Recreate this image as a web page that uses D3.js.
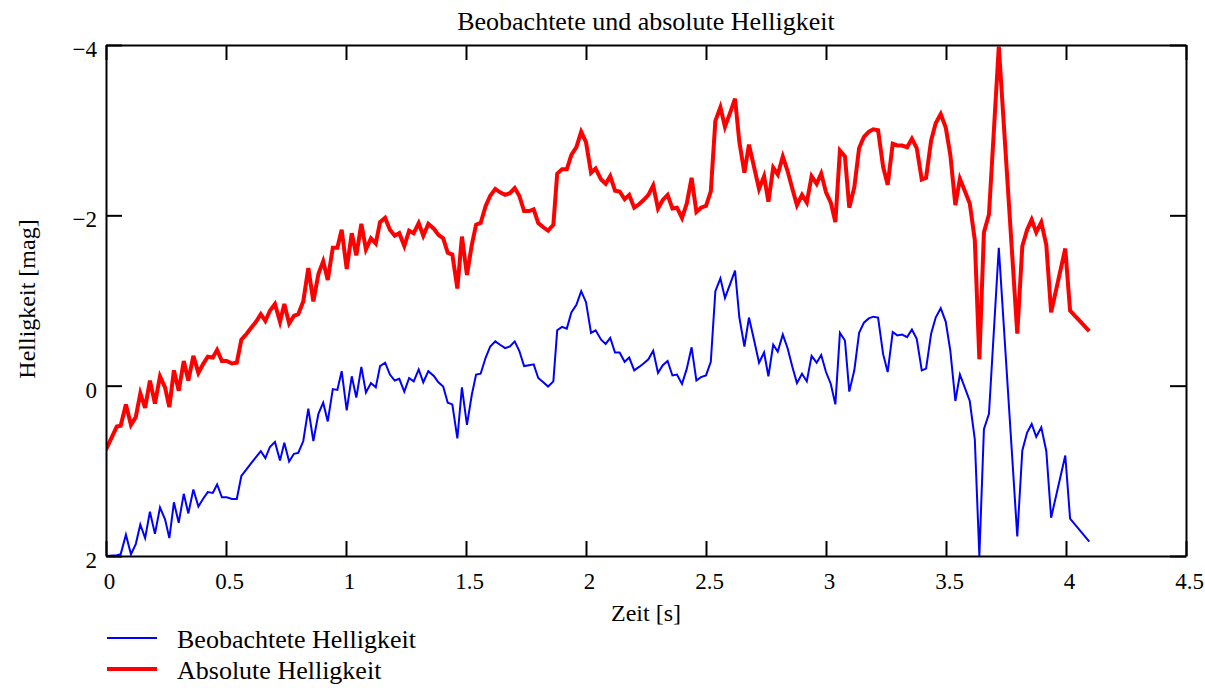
<!DOCTYPE html>
<html>
<head>
<meta charset="utf-8">
<script src="https://cdn.jsdelivr.net/npm/d3@7"></script>
<style>
  body { margin: 0; background: #fff; }
  text { font-family: "Liberation Serif", "Times New Roman", serif; fill: #000; }
</style>
</head>
<body>
<svg id="chart" width="1205" height="691"></svg>
<script>
// time in seconds
const time = [
  0, 0.045, 0.061, 0.083, 0.104, 0.124, 0.143, 0.163, 0.183, 0.204, 0.225, 0.246, 0.264, 0.283, 0.303, 0.324, 0.343,
  0.364, 0.385, 0.404, 0.424, 0.445, 0.463, 0.483, 0.503, 0.525, 0.545, 0.564, 0.586, 0.605, 0.625, 0.645, 0.664, 0.683,
  0.704, 0.725, 0.743, 0.763, 0.783, 0.801, 0.822, 0.843, 0.864, 0.885, 0.905, 0.924, 0.945, 0.964, 0.982, 1.003, 1.024,
  1.043, 1.064, 1.083, 1.104, 1.124, 1.142, 1.163, 1.183, 1.203, 1.222, 1.243, 1.263, 1.282, 1.303, 1.322, 1.343,
  1.367, 1.385, 1.405, 1.424, 1.443, 1.464, 1.483, 1.504, 1.524, 1.542, 1.561, 1.582, 1.601, 1.622, 1.642, 1.663, 1.683,
  1.703, 1.722, 1.742, 1.763, 1.782, 1.801, 1.822, 1.842, 1.864, 1.88, 1.9, 1.92, 1.939, 1.96, 1.98, 2.0, 2.021, 2.04,
  2.063, 2.082, 2.101, 2.121, 2.14, 2.161, 2.18, 2.201, 2.221, 2.24, 2.26, 2.28, 2.3, 2.32, 2.34, 2.36, 2.379, 2.4,
  2.42, 2.44, 2.46, 2.479, 2.5, 2.52, 2.539, 2.56, 2.579, 2.6, 2.621, 2.639, 2.66, 2.679, 2.7, 2.721,
  2.742, 2.76, 2.78, 2.799, 2.82, 2.84, 2.86, 2.879, 2.9, 2.92, 2.94, 2.961, 2.98, 3.0, 3.02, 3.039, 3.058, 3.079,
  3.097, 3.118, 3.138, 3.158, 3.178, 3.197, 3.217, 3.238, 3.257, 3.278, 3.297, 3.317, 3.338, 3.358, 3.378, 3.399, 3.417,
  3.438, 3.457, 3.478, 3.499, 3.518, 3.539, 3.558, 3.578, 3.599, 3.62, 3.639, 3.658, 3.679, 3.72, 3.797, 3.818, 3.838,
  3.857, 3.876, 3.897, 3.918, 3.938, 3.997, 4.017, 4.097
];

// Beobachtete Helligkeit [mag]
const observed = [
  2.0, 1.99, 1.98, 1.75, 1.98, 1.86, 1.63, 1.79, 1.48, 1.74, 1.43, 1.57, 1.79, 1.37, 1.61, 1.27, 1.5,
  1.22, 1.42, 1.33, 1.25, 1.26, 1.16, 1.31, 1.31, 1.33, 1.33, 1.06, 0.98, 0.91, 0.84, 0.77, 0.85, 0.72,
  0.66, 0.88, 0.67, 0.89, 0.8, 0.79, 0.65, 0.27, 0.65, 0.33, 0.2, 0.42, 0.04, 0.05, -0.17, 0.29, -0.11,
  0.14, -0.22, 0.08, -0.03, 0.02, -0.23, -0.27, -0.13, -0.06, -0.08, 0.07, -0.09, -0.05, -0.19, -0.04, -0.17,
  -0.11, -0.04, 0.01, 0.2, 0.22, 0.62, 0.02, 0.46, 0.11, -0.13, -0.14, -0.33, -0.46, -0.52, -0.48, -0.44, -0.46,
  -0.52, -0.41, -0.23, -0.24, -0.25, -0.09, -0.04, 0.01, -0.05, -0.65, -0.69, -0.67, -0.86, -0.95, -1.11, -0.98, -0.62, -0.65,
  -0.54, -0.49, -0.56, -0.39, -0.39, -0.28, -0.33, -0.18, -0.22, -0.26, -0.31, -0.41, -0.15, -0.24, -0.29, -0.12, -0.13, -0.02,
  -0.2, -0.45, -0.06, -0.1, -0.12, -0.28, -1.11, -1.26, -1.03, -1.19, -1.35, -0.8, -0.46, -0.8, -0.54, -0.27,
  -0.39, -0.11, -0.48, -0.4, -0.6, -0.44, -0.22, -0.03, -0.14, -0.05, -0.35, -0.27, -0.36, -0.16, -0.02, 0.22, -0.62, -0.53,
  0.07, -0.18, -0.62, -0.74, -0.79, -0.81, -0.8, -0.37, -0.16, -0.63, -0.59, -0.6, -0.57, -0.66, -0.55, -0.18, -0.2,
  -0.61, -0.8, -0.91, -0.75, -0.41, 0.18, -0.13, 0.02, 0.18, 0.63, 2.0, 0.51, 0.33, -1.62, 1.77, 0.76, 0.55,
  0.45, 0.6, 0.49, 0.77, 1.55, 0.82, 1.56, 1.83
];

// Absolute Helligkeit [mag]
const absolute = [
  0.75, 0.48, 0.47, 0.22, 0.46, 0.37, 0.09, 0.26, -0.06, 0.21, -0.11, 0.02, 0.25, -0.18, 0.06, -0.29, -0.06,
  -0.35, -0.15, -0.25, -0.34, -0.33, -0.42, -0.29, -0.29, -0.26, -0.27, -0.54, -0.61, -0.68, -0.75, -0.84, -0.76, -0.88,
  -0.96, -0.75, -0.96, -0.73, -0.82, -0.84, -0.99, -1.38, -0.99, -1.31, -1.46, -1.24, -1.62, -1.62, -1.83, -1.37, -1.79,
  -1.53, -1.9, -1.6, -1.73, -1.67, -1.92, -1.97, -1.83, -1.76, -1.79, -1.64, -1.82, -1.79, -1.91, -1.76, -1.9,
  -1.84, -1.77, -1.73, -1.56, -1.54, -1.14, -1.75, -1.3, -1.65, -1.89, -1.91, -2.11, -2.23, -2.31, -2.27, -2.24, -2.26,
  -2.32, -2.23, -2.05, -2.05, -2.07, -1.91, -1.86, -1.82, -1.89, -2.49, -2.54, -2.54, -2.71, -2.8, -2.98, -2.86, -2.5, -2.55,
  -2.42, -2.37, -2.46, -2.29, -2.28, -2.19, -2.24, -2.09, -2.13, -2.18, -2.24, -2.35, -2.08, -2.18, -2.24, -2.08, -2.09, -1.97,
  -2.14, -2.44, -2.04, -2.09, -2.11, -2.28, -3.11, -3.27, -3.04, -3.2, -3.37, -2.86, -2.5, -2.83, -2.57, -2.31,
  -2.46, -2.16, -2.56, -2.48, -2.69, -2.52, -2.31, -2.12, -2.24, -2.15, -2.46, -2.37, -2.49, -2.27, -2.15, -1.92, -2.76, -2.69,
  -2.09, -2.33, -2.79, -2.92, -2.98, -3.01, -3.0, -2.57, -2.36, -2.84, -2.82, -2.82, -2.8, -2.9, -2.79, -2.42, -2.44,
  -2.88, -3.08, -3.19, -3.03, -2.71, -2.12, -2.43, -2.29, -2.14, -1.71, -0.31, -1.8, -2.01, -3.98, -0.61, -1.64, -1.83,
  -1.95, -1.8, -1.92, -1.65, -0.86, -1.61, -0.88, -0.64
];

const xTicks = [0, 0.5, 1, 1.5, 2, 2.5, 3, 3.5, 4, 4.5];
const yTicks = [-4, -2, 0, 2];

const svg = d3.select("#chart");

const x = d3.scaleLinear().domain([0, 4.5]).range([106, 1186]);
const y = d3.scaleLinear().domain([-4, 2]).range([45, 556]);

// minus sign like the original
const fmt = d => d < 0 ? "\u2212" + Math.abs(d) : String(d);

svg.append("clipPath").attr("id", "plot-clip")
  .append("rect")
  .attr("x", x(0)).attr("y", y(-4))
  .attr("width", x(4.5) - x(0)).attr("height", y(2) - y(-4));

// lines
const line = d3.line()
  .x((d, i) => x(time[i]))
  .y(d => y(d));

const plot = svg.append("g").attr("clip-path", "url(#plot-clip)");

plot.append("path")
  .datum(observed)
  .attr("fill", "none")
  .attr("stroke", "#0000ff")
  .attr("stroke-width", 2)
  .attr("d", line);

plot.append("path")
  .datum(absolute)
  .attr("fill", "none")
  .attr("stroke", "#ff0000")
  .attr("stroke-width", 4)
  .attr("d", line);

// axes (ticks inward on all four sides)
function styleAxis(g) {
  g.attr("font-family", null).attr("font-size", 23);
  g.selectAll("path, line").attr("stroke", "#000").attr("stroke-width", 2);
}

svg.append("g")
  .attr("transform", `translate(0,${y(2)})`)
  .call(d3.axisBottom(x).tickValues(xTicks).tickSize(-15).tickSizeOuter(0).tickPadding(17).tickFormat(fmt))
  .call(styleAxis)
  .selectAll("text").attr("dx", 3);

svg.append("g")
  .attr("transform", `translate(0,${y(-4)})`)
  .call(d3.axisTop(x).tickValues(xTicks).tickSize(-15).tickSizeOuter(0).tickFormat(() => ""))
  .call(styleAxis);

svg.append("g")
  .attr("transform", `translate(${x(0)},0)`)
  .call(d3.axisLeft(y).tickValues(yTicks).tickSize(-16).tickSizeOuter(0).tickPadding(9).tickFormat(fmt))
  .call(styleAxis)
  .selectAll("text").attr("dy", "0.5em");

svg.append("g")
  .attr("transform", `translate(${x(4.5)},0)`)
  .call(d3.axisRight(y).tickValues(yTicks).tickSize(-16).tickSizeOuter(0).tickFormat(() => ""))
  .call(styleAxis);

// titles
svg.append("text")
  .attr("x", 646).attr("y", 30)
  .attr("text-anchor", "middle")
  .attr("font-size", 26)
  .text("Beobachtete und absolute Helligkeit");

svg.append("text")
  .attr("x", 646).attr("y", 621)
  .attr("text-anchor", "middle")
  .attr("font-size", 24)
  .text("Zeit [s]");

svg.append("text")
  .attr("transform", "translate(35,299) rotate(-90)")
  .attr("text-anchor", "middle")
  .attr("font-size", 24)
  .text("Helligkeit [mag]");

// legend
const legend = [
  { label: "Beobachtete Helligkeit", color: "#0000ff", width: 2 },
  { label: "Absolute Helligkeit", color: "#ff0000", width: 4 }
];

const lg = svg.append("g").attr("transform", "translate(107,638)");
legend.forEach((d, i) => {
  lg.append("line")
    .attr("x1", 0).attr("x2", 50)
    .attr("y1", i * 31).attr("y2", i * 31)
    .attr("stroke", d.color)
    .attr("stroke-width", d.width);
  lg.append("text")
    .attr("x", 70).attr("y", i * 31 + 10)
    .attr("font-size", 26)
    .text(d.label);
});
</script>
</body>
</html>
